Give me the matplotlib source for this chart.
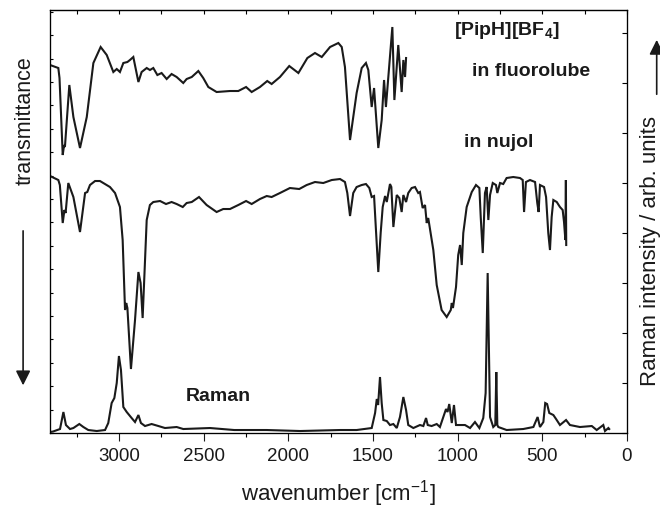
import numpy as np
import matplotlib
matplotlib.use("Agg")
import matplotlib.pyplot as plt

plt.rcParams['font.family'] = 'Liberation Sans'
plt.rcParams['mathtext.fontset'] = 'custom'
plt.rcParams['mathtext.rm'] = 'Liberation Sans'
plt.rcParams['mathtext.bf'] = 'Liberation Sans:bold'

# IR in fluorolube (wavenumber / arb. offset units)
fluoro_wn = [3408, 3359, 3352, 3333, 3325, 3320, 3294, 3270, 3231, 3191, 3152, 3109, 3073,
             3034, 3014, 2995, 2975, 2951, 2936, 2916, 2886, 2867, 2837, 2818, 2798, 2774,
             2749, 2719, 2690, 2660, 2621, 2601, 2571, 2532, 2503, 2473, 2424, 2345, 2296,
             2250, 2217, 2168, 2125, 2099, 2050, 1995, 1941, 1888, 1843, 1803, 1754, 1705,
             1685, 1666, 1636, 1597, 1567, 1542, 1528, 1508, 1494, 1469, 1449, 1435, 1424,
             1386, 1374, 1351, 1331, 1321, 1311, 1305]
fluoro_y = [368, 365, 355, 278, 288, 286, 348, 316, 285, 316, 370, 386, 378,
            361, 364, 361, 370, 371, 373, 376, 351, 361, 365, 363, 365, 358,
            360, 354, 359, 356, 350, 354, 356, 362, 355, 346, 341, 342, 342,
            346, 341, 346, 352, 349, 356, 367, 360, 375, 380, 376, 386, 390,
            386, 366, 293, 340, 365, 370, 363, 326, 345, 285, 313, 353, 326,
            406, 333, 388, 341, 373, 356, 375]

# IR in nujol
nujol_wn = [3408, 3359, 3350, 3333, 3323, 3316, 3300, 3270, 3231, 3201, 3188, 3172, 3142,
            3113, 3083, 3054, 3024, 2995, 2979, 2965, 2958, 2951, 2930, 2906, 2886, 2873,
            2861, 2847, 2837, 2818, 2798, 2758, 2723, 2690, 2660, 2624, 2601, 2571, 2528,
            2483, 2424, 2385, 2345, 2296, 2250, 2217, 2168, 2128, 2099, 2050, 1991, 1936,
            1892, 1843, 1794, 1744, 1695, 1666, 1652, 1636, 1617, 1597, 1567, 1542, 1522,
            1508, 1494, 1469, 1455, 1443, 1429, 1419, 1400, 1392, 1380, 1360, 1345, 1331,
            1321, 1305, 1292, 1272, 1252, 1233, 1223, 1207, 1193, 1183, 1174, 1144, 1124,
            1095, 1065, 1041, 1035, 1028, 1010, 997, 986, 976, 967, 947, 917, 892, 872,
            864, 852, 839, 829, 819, 809, 793, 774, 766, 750, 731, 711, 672, 632, 616,
            608, 597, 573, 543, 530, 522, 514, 490, 478, 465, 455, 445, 435, 415, 396,
            380, 372, 364, 361, 359]
nujol_y = [257, 253, 248, 210, 223, 220, 250, 236, 201, 240, 241, 248, 252,
           252, 249, 246, 240, 226, 193, 123, 130, 125, 64, 113, 161, 150,
           115, 173, 213, 228, 231, 232, 229, 231, 229, 226, 230, 231, 236,
           228, 221, 224, 224, 228, 232, 229, 234, 237, 236, 240, 245, 244,
           248, 251, 250, 253, 254, 251, 240, 217, 240, 246, 248, 249, 245,
           236, 237, 161, 200, 226, 237, 231, 249, 246, 206, 238, 235, 221,
           238, 231, 240, 245, 246, 240, 241, 225, 228, 210, 215, 183, 148,
           123, 116, 123, 130, 125, 146, 178, 188, 168, 200, 226, 241, 248, 245,
           216, 180, 240, 246, 213, 238, 250, 248, 240, 250, 249, 255, 256, 255, 253,
           221, 251, 253, 251, 230, 221, 248, 246, 236, 200, 183, 216, 233, 231, 226,
           223, 211, 193, 253, 188]

# Raman
raman_wn = [3408, 3390, 3349, 3329, 3314, 3290, 3270, 3235, 3211, 3182, 3132, 3083, 3064,
            3044, 3028, 3014, 3001, 2989, 2975, 2955, 2926, 2906, 2886, 2871, 2847, 2808,
            2768, 2729, 2660, 2621, 2463, 2320, 2128, 1931, 1695, 1597, 1508, 1488, 1478,
            1470, 1459, 1449, 1439, 1419, 1400, 1380, 1360, 1341, 1321, 1305, 1292, 1262,
            1223, 1203, 1187, 1177, 1154, 1124, 1105, 1085, 1069, 1060, 1050, 1035, 1022,
            1010, 986, 957, 927, 898, 872, 849, 835, 823, 809, 790, 778, 772, 766, 760,
            711, 613, 553, 528, 514, 494, 483, 472, 459, 435, 419, 396, 360, 337, 278,
            208, 179, 140, 130, 110, 105]
raman_y = [1, 1.5, 4, 21, 8, 4, 5, 9, 6, 3, 2, 3, 10,
           30, 35, 50, 77, 63, 26, 21, 15, 11, 18, 10, 7, 9,
           7, 5, 6, 4, 5, 3, 3, 2, 3, 3, 5, 20, 34,
           28, 56, 30, 13, 12, 8, 9, 5, 16, 36, 23, 8, 5,
           8, 7, 15, 8, 7, 9, 6, 16, 24, 21, 29, 10, 28,
           8, 8, 8, 5, 11, 5, 15, 40, 160, 16, 6, 8, 61, 8, 6,
           3, 4, 6, 16, 6, 11, 30, 29, 20, 18, 14, 8, 13, 8, 6,
           7, 3, 8, 2, 5, 4]

ink = '#1a1a1a'
fig = plt.figure(figsize=(6.6, 5.08), dpi=100)
ax = fig.add_axes([0.0758, 0.1476, 0.8742, 0.8327])

for wn, y in [(fluoro_wn, fluoro_y), (nujol_wn, nujol_y), (raman_wn, raman_y)]:
    ax.plot(wn, y, color=ink, lw=1.5, solid_joinstyle='miter')

ax.set_xlim(3408, 0)
ax.set_ylim(0, 423)
ax.set_xticks(np.arange(0, 3001, 500))
ax.set_xticks(np.arange(0, 3400, 250), minor=True)
ax.set_yticks(np.arange(0, 423, 23.4))
ax.set_yticklabels([])
ax.tick_params(axis='x', which='major', direction='out', length=5.5, width=0.8,
               labelsize=13.5, pad=5, colors=ink, top=False)
ax.tick_params(axis='x', which='minor', direction='out', length=3, width=0.8, top=False)
ax.tick_params(axis='y', direction='in', length=2.5, width=0.8, right=False)
for s in ax.spines.values():
    s.set_linewidth(0.9)
    s.set_color(ink)

# top ticks every 250, inward
top = ax.secondary_xaxis('top')
top.set_xticks(np.arange(0, 3400, 250))
top.tick_params(direction='in', length=3, width=0.8, labeltop=False)

# right axis ticks (Raman)
right = ax.twinx()
right.set_ylim(0, 423)
right.set_yticks(np.arange(0, 423, 50))
right.set_yticklabels([])
right.tick_params(direction='in', length=3.5, width=0.8)

ax.set_xlabel('wavenumber [cm$^{-1}$]', fontsize=16, color=ink, labelpad=10)

ax.text(709, 403, '[PipH][BF$_\\mathbf{4}$]', ha='center', va='center',
        fontsize=14, fontweight='bold', color=ink)
ax.text(567, 362, 'in fluorolube', ha='center', va='center',
        fontsize=14, fontweight='bold', color=ink)
ax.text(756, 291, 'in nujol', ha='center', va='center',
        fontsize=14, fontweight='bold', color=ink)
ax.text(2413, 37, 'Raman', ha='center', va='center',
        fontsize=14, fontweight='bold', color=ink)

fig.text(0.038, 0.762, 'transmittance', rotation=90, ha='center', va='center',
         fontsize=15.5, color=ink)
fig.text(0.986, 0.506, 'Raman intensity / arb. units', rotation=90, ha='center',
         va='center', fontsize=16, color=ink)

# arrows drawn in figure fraction
fig.add_artist(matplotlib.patches.FancyArrowPatch(
    (0.035, 0.551), (0.035, 0.236), transform=fig.transFigure,
    arrowstyle='-|>', mutation_scale=22, color=ink, lw=1.2))
fig.add_artist(matplotlib.patches.FancyArrowPatch(
    (0.995, 0.809), (0.995, 0.927), transform=fig.transFigure,
    arrowstyle='-|>', mutation_scale=22, color=ink, lw=1.2))

fig.savefig('out.png', dpi=100)
